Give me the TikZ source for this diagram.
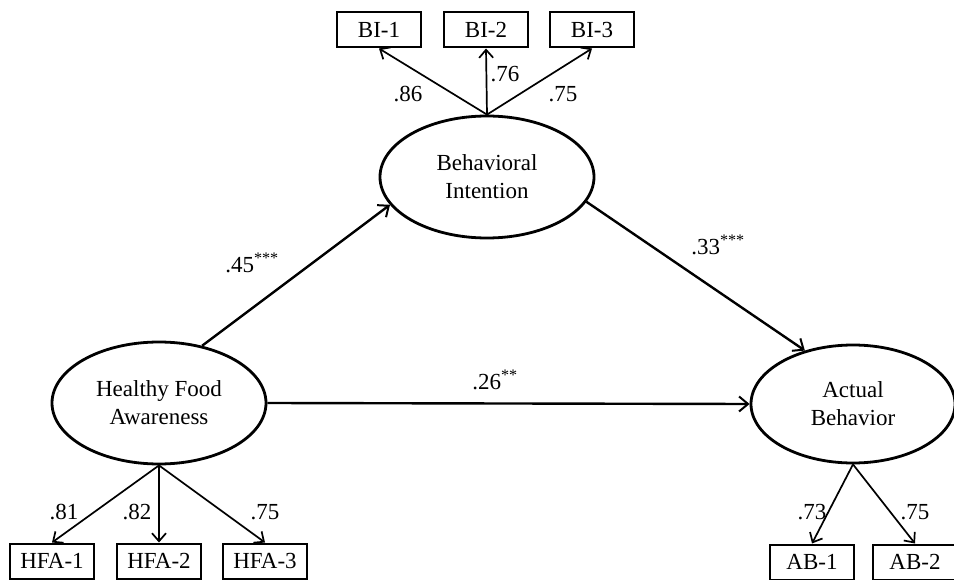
\documentclass[tikz,border=0pt]{standalone}
\usepackage{fontspec}
\setmainfont{Liberation Serif}
\usetikzlibrary{arrows.meta,shapes.geometric}
\begin{document}
\begin{tikzpicture}[x=1pt,y=-1pt,
  every node/.style={font=\fontsize{23}{28}\selectfont},
  latent/.style={ellipse,draw,line width=2.8pt,minimum width=214pt,minimum height=122pt,align=center,inner sep=0pt},
  indic/.style={rectangle,draw,line width=2pt,minimum width=84pt,minimum height=35pt,inner sep=0pt},
  path/.style={line width=2.4pt,-{Straight Barb[length=9pt,width=15pt,line width=2pt]}},
  load/.style={line width=1.7pt,-{Straight Barb[length=8pt,width=14pt,line width=1.7pt]}},
  lab/.style={inner sep=0pt}]
\useasboundingbox (0,0) rectangle (954,580);
% latent variables
\node[latent] (BI) at (487,177) {Behavioral\\Intention};
\node[latent] (HFA) at (159,403) {Healthy Food\\Awareness};
\node[latent,minimum width=204pt,minimum height=118pt] (AB) at (853,404) {Actual\\Behavior};
% indicators
\node[indic] (BI1) at (379,30) {BI-1};
\node[indic] (BI2) at (486,30) {BI-2};
\node[indic] (BI3) at (592,30) {BI-3};
\node[indic] (HFA1) at (52,561) {HFA-1};
\node[indic] (HFA2) at (159,561) {HFA-2};
\node[indic] (HFA3) at (265,561) {HFA-3};
\node[indic] (AB1) at (812,562) {AB-1};
\node[indic] (AB2) at (915,562) {AB-2};
% loadings
\draw[load] (BI.north) -- (BI1.south);
\draw[load] (BI.north) -- (BI2.south);
\draw[load] (BI.north) -- (BI3.south);
\draw[load] (HFA.south) -- (HFA1.north);
\draw[load] (HFA.south) -- (HFA2.north);
\draw[load] (HFA.south) -- (HFA3.north);
\draw[load] (AB.south) -- (AB1.north);
\draw[load] (AB.south) -- (AB2.north);
\node[lab] (l86) at (408,94) {.86};
\node[lab] (l76) at (505,74) {.76};
\node[lab] (l75a) at (563,94) {.75};
\node[lab] (l81) at (64,512) {.81};
\node[lab] (l82) at (137,512) {.82};
\node[lab] (l75b) at (265,512) {.75};
\node[lab] (l73) at (812,512) {.73};
\node[lab] (l75c) at (915,512) {.75};
% structural paths
\draw[path] (HFA.53) -- (BI.196);
\draw[path] (BI.-14) -- (AB.132);
\draw[path] (HFA.east) -- (AB.west);
\node[lab] (p45) at (252,263) {.45\textsuperscript{***}};
\node[lab] (p33) at (718,245) {.33\textsuperscript{***}};
\node[lab] (p26) at (495,380) {.26\textsuperscript{**}};
\end{tikzpicture}
\end{document}
